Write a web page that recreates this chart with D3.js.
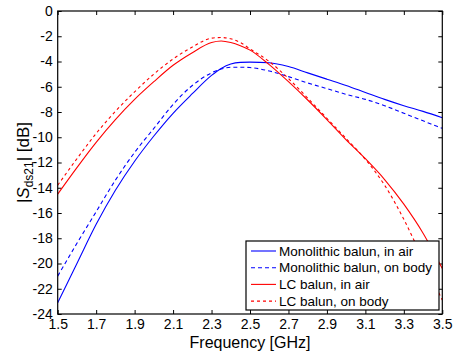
<!DOCTYPE html>
<html>
<head>
<meta charset="utf-8">
<script src="https://cdn.jsdelivr.net/npm/d3@7"></script>
<style>
  body { margin: 0; background: #fff; }
  text { font-family: "Liberation Sans", Arial, sans-serif; fill: #000; }
</style>
</head>
<body>
<div id="chart"></div>
<script>
// frequency points (GHz)
var freq = [1.5, 1.6, 1.7, 1.8, 1.9, 2.0, 2.1, 2.2, 2.3, 2.35, 2.4, 2.45, 2.5, 2.6, 2.7, 2.8, 2.9, 3.0, 3.1, 3.2, 3.3, 3.4, 3.5]

// |Sds21| in dB for each case
var monoAir  = [-23.1, -20.0, -16.9, -14.2, -11.9, -9.9, -8.1, -6.55, -5.1, -4.55, -4.2, -4.07, -4.05, -4.1, -4.4, -4.9, -5.4, -5.9, -6.45, -7.0, -7.5, -7.95, -8.45]
var monoBody = [-21.0, -18.4, -15.9, -13.4, -11.2, -9.3, -7.4, -5.9, -4.9, -4.6, -4.46, -4.45, -4.48, -4.75, -5.2, -5.7, -6.15, -6.6, -7.0, -7.5, -8.1, -8.7, -9.3]
var lcAir    = [-14.5, -12.4, -10.4, -8.6, -7.0, -5.6, -4.3, -3.3, -2.5, -2.38, -2.5, -2.75, -3.1, -4.25, -5.6, -7.05, -8.6, -10.2, -11.7, -13.35, -15.3, -17.6, -20.4]
var lcBody   = [-13.8, -11.7, -9.7, -7.95, -6.4, -5.0, -3.8, -2.85, -2.15, -2.1, -2.2, -2.5, -3.0, -4.0, -5.35, -6.9, -8.5, -10.1, -11.75, -13.8, -16.5, -19.7, -22.9]

var seriesNames = ["Monolithic balun, in air", "Monolithic balun, on body", "LC balun, in air", "LC balun, on body"]
var seriesColors = ["#0000ff", "#0000ff", "#ff0000", "#ff0000"]
var seriesDash = [null, "4,3", null, "3,3"]

var xTicks = [1.5, 1.7, 1.9, 2.1, 2.3, 2.5, 2.7, 2.9, 3.1, 3.3, 3.5]
var yTicks = [0, -2, -4, -6, -8, -10, -12, -14, -16, -18, -20, -22, -24]

var width = 453
var height = 354
// plot area edges
var plotL = 57.7, plotR = 442.3, plotT = 11, plotB = 314

var svg = d3.select('#chart')
            .append('svg')
            .attr('width', width)
            .attr('height', height)

var xScale = d3.scaleLinear().domain([1.5, 3.5]).range([plotL, plotR])
var yScale = d3.scaleLinear().domain([-24, 0]).range([plotB, plotT])

// clip for curves
svg.append('clipPath').attr('id', 'clip')
   .append('rect')
   .attr('x', plotL).attr('y', plotT)
   .attr('width', plotR - plotL).attr('height', plotB - plotT)

// axes with inward ticks (bottom/left labelled, top/right mirrored)
var xAxis = d3.axisBottom(xScale).tickValues(xTicks).tickSizeInner(-4).tickSizeOuter(0)
            .tickPadding(5.5).tickFormat(d3.format('.1f'))
var yAxis = d3.axisLeft(yScale).tickValues(yTicks).tickSizeInner(-4).tickSizeOuter(0)
            .tickPadding(5).tickFormat(d => d)

svg.append('g').attr('transform', 'translate(0,' + plotB + ')').call(xAxis)
svg.append('g').attr('transform', 'translate(' + plotL + ',0)').call(yAxis)
svg.append('g').attr('transform', 'translate(0,' + plotT + ')')
   .call(d3.axisTop(xScale).tickValues(xTicks).tickSizeInner(-4).tickSizeOuter(0).tickFormat(''))
svg.append('g').attr('transform', 'translate(' + plotR + ',0)')
   .call(d3.axisRight(yScale).tickValues(yTicks).tickSizeInner(-4).tickSizeOuter(0).tickFormat(''))

svg.selectAll('.domain').remove()
svg.selectAll('.tick line').attr('stroke', '#000')
svg.selectAll('.tick text').style('font-size', '14px').style('font-family', '"Liberation Sans", Arial, sans-serif')

// curves
var data = [monoAir, monoBody, lcAir, lcBody]
var line = d3.line()
             .x((d, i) => xScale(freq[i]))
             .y(d => yScale(d))
             .curve(d3.curveMonotoneX)

svg.append('g').attr('clip-path', 'url(#clip)')
   .selectAll('path')
   .data(data)
   .enter()
   .append('path')
   .attr('d', d => line(d))
   .attr('fill', 'none')
   .attr('stroke', (d, i) => seriesColors[i])
   .attr('stroke-width', 1.1)
   .attr('stroke-dasharray', (d, i) => seriesDash[i])

// plot frame
svg.append('rect')
   .attr('x', plotL).attr('y', plotT)
   .attr('width', plotR - plotL).attr('height', plotB - plotT)
   .attr('fill', 'none').attr('stroke', '#000').attr('stroke-width', 1.2)

// legend
var legend = svg.append('g')
legend.append('rect')
      .attr('x', 246).attr('y', 241).attr('width', 193).attr('height', 69)
      .attr('fill', '#fff').attr('stroke', '#000').attr('stroke-width', 1.2)

var items = legend.selectAll('.item')
                  .data(seriesNames)
                  .enter()
                  .append('g')
                  .attr('transform', (d, i) => 'translate(0,' + (251 + i * 16.7) + ')')
items.append('line')
     .attr('x1', 251).attr('x2', 276).attr('y1', 0).attr('y2', 0)
     .attr('stroke', (d, i) => seriesColors[i])
     .attr('stroke-width', 1.1)
     .attr('stroke-dasharray', (d, i) => seriesDash[i])
items.append('text')
     .attr('x', 279).attr('y', 0).attr('dy', '0.35em')
     .style('font-size', '13.5px')
     .text(d => d)

// axis labels
svg.append('text')
   .attr('x', (plotL + plotR) / 2).attr('y', 348)
   .attr('text-anchor', 'middle')
   .style('font-size', '16px')
   .text('Frequency [GHz]')

var yl = svg.append('text')
            .attr('transform', 'translate(29,' + ((plotT + plotB) / 2) + ') rotate(-90)')
            .attr('text-anchor', 'middle')
            .style('font-size', '17px')
yl.append('tspan').text('|')
yl.append('tspan').style('font-style', 'italic').text('S')
yl.append('tspan').attr('dy', 4).style('font-size', '12px').text('ds21')
yl.append('tspan').attr('dy', -4).text('| [dB]')
</script>
</body>
</html>
